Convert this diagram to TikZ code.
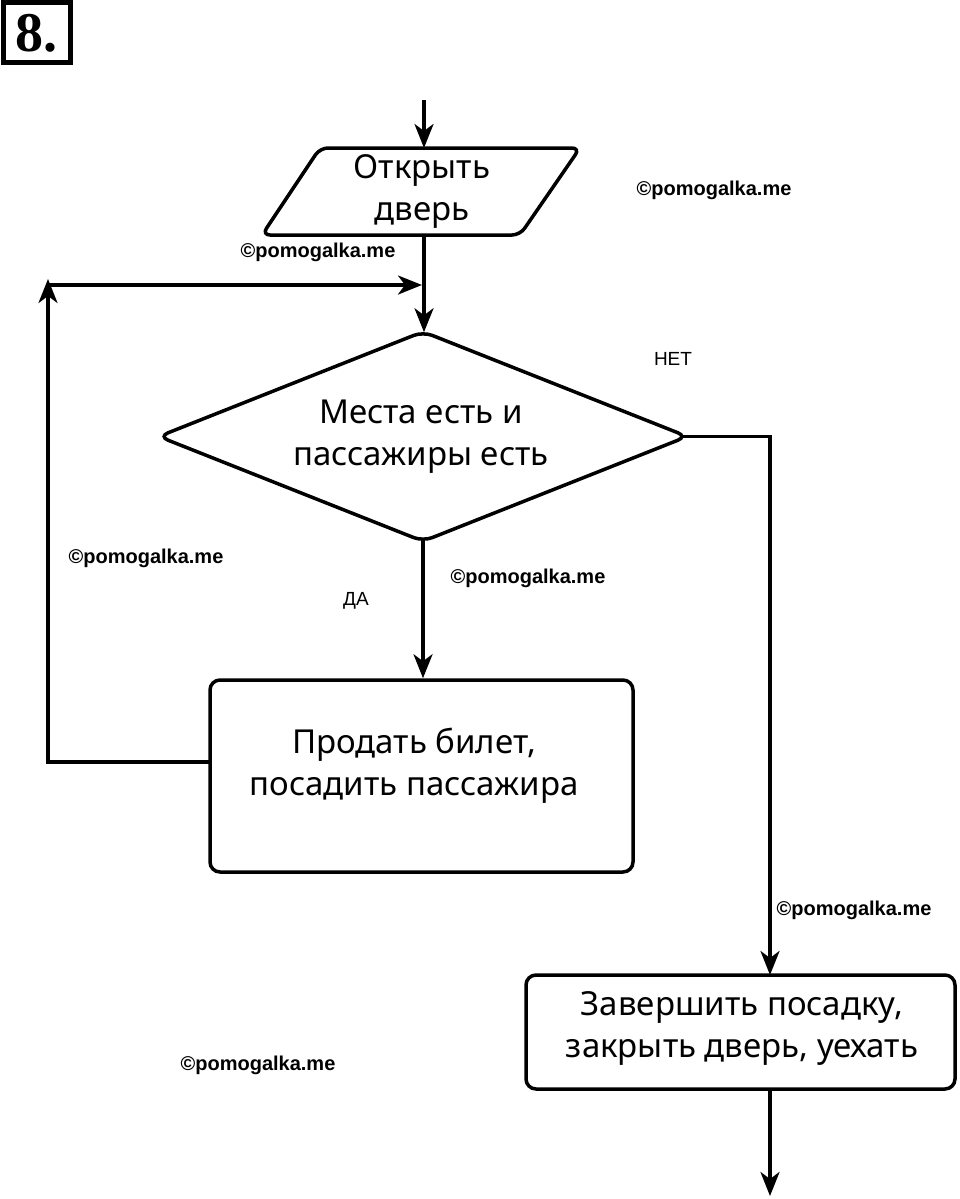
\documentclass[tikz,border=0pt]{standalone}
\usepackage{fontspec}
\setmainfont{Noto Sans}
\newfontfamily\wmfont{Liberation Sans}
\newfontfamily\numfont{Liberation Serif}
\usetikzlibrary{shapes.geometric,arrows.meta}
\tikzset{
  line/.style={line width=3.5pt},
  arr/.style={line width=3.5pt,-{Stealth[length=24pt,width=19pt,inset=7pt]}},
  txt/.style={align=center,font=\fontsize{33}{42}\selectfont,inner sep=0pt},
  wm/.style={font=\wmfont\bfseries\fontsize{20}{22}\selectfont,inner sep=0pt},
  lbl/.style={font=\wmfont\fontsize{19}{22}\selectfont,inner sep=0pt},
  procbox/.style={draw,line width=3.5pt,rounded corners=10pt,inner sep=0pt},
}
\begin{document}
\begin{tikzpicture}[x=1pt,y=-1pt]
\useasboundingbox (0,0) rectangle (960,1199);
% number
\node[draw,line width=5pt,minimum width=67pt,minimum height=60pt,inner sep=0pt,
  font=\numfont\bfseries\fontsize{56}{56}\selectfont] (num) at (36.5,33) {8.};
% coordinates
\coordinate (start) at (424,100);
\coordinate (openTop) at (424,148);
\coordinate (openBot) at (424,235);
\coordinate (join) at (422,285);
\coordinate (loopTL) at (48,285);
\coordinate (loopBL) at (48,762);
\coordinate (sellW) at (211,762);
\coordinate (finTop) at (770,975);
\coordinate (finBot) at (770,1089);
\coordinate (finish) at (770,1196);
% input/output block
\draw[line,rounded corners=8pt] (320,148) -- (580,148) -- (520,235) -- (262,235) -- cycle;
\node[txt] (open) at (422,191) {Открыть\\дверь};
% decision
\node[diamond,draw,line width=3.5pt,rounded corners=10pt,minimum width=530pt,minimum height=211pt,inner sep=0pt] (cond) at (423,436.5) {};
\node[txt] (condtxt) at (421,437) {Места есть и\\пассажиры есть};
% process
\node[procbox,minimum width=423pt,minimum height=192pt] (sell) at (421.5,776) {};
\node[txt] (selltxt) at (414,766) {Продать билет,\\посадить пассажира};
\node[procbox,minimum width=429pt,minimum height=114pt] (fin) at (740.5,1032) {};
\node[txt] (fintxt) at (742,1028) {Завершить посадку,\\закрыть дверь, уехать};
% connectors
\draw[arr] (start) -- (openTop);
\draw[arr] (openBot) -- ([yshift=-3pt]openBot |- cond.north);
\draw[arr] (sellW) -- (loopBL) -- ([yshift=6pt]loopTL);
\draw[arr] (loopTL) -- (join);
\draw[arr] ([yshift=4pt]cond.south) -- (cond.south |- sell.north);
\draw[arr] ([xshift=-7pt]cond.east) -| (finTop);
\draw[arr] (finBot) -- (finish);
% labels
\node[lbl] (no) at (673,359) {НЕТ};
\node[lbl] (yes) at (356,601) {ДА};
% watermarks
\node[wm] (w1) at (714,190) {©pomogalka.me};
\node[wm] (w2) at (318,252) {©pomogalka.me};
\node[wm] (w3) at (146,558) {©pomogalka.me};
\node[wm] (w4) at (528,578) {©pomogalka.me};
\node[wm] (w5) at (854,910) {©pomogalka.me};
\node[wm] (w6) at (258,1065) {©pomogalka.me};
\end{tikzpicture}
\end{document}
